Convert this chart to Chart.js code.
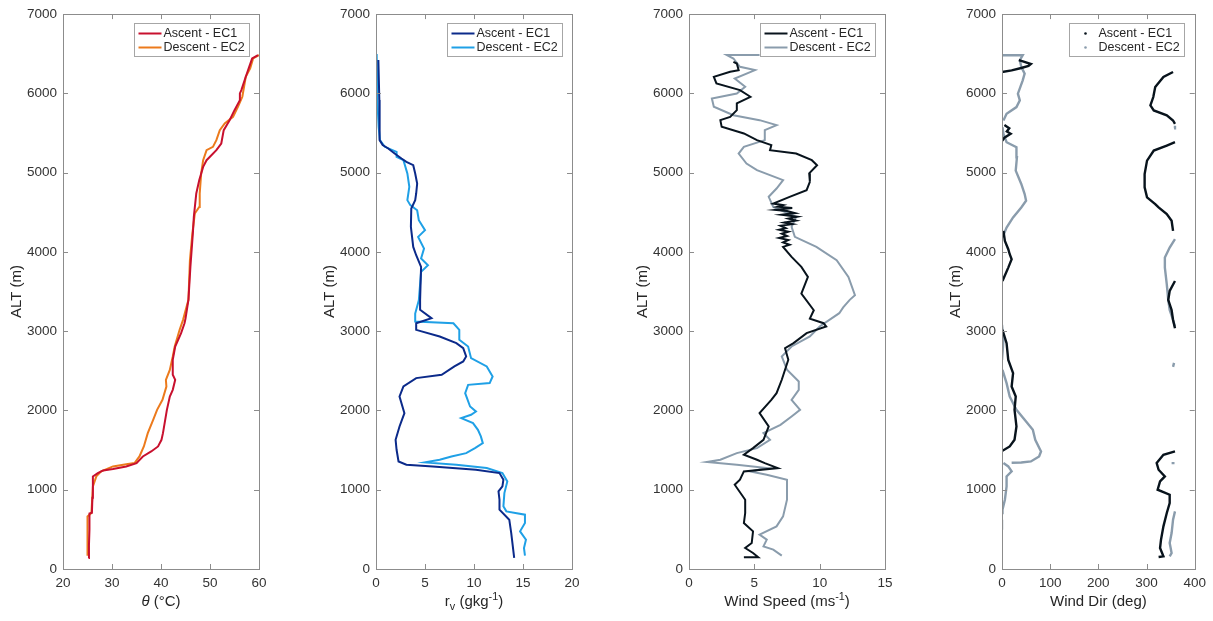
<!DOCTYPE html>
<html>
<head>
<meta charset="utf-8">
<script src="https://cdn.jsdelivr.net/npm/chart.js@4.4.1/dist/chart.umd.min.js"></script>
<style>
  html, body { margin: 0; padding: 0; background: #fff; overflow: hidden; }
  #wrap { position: relative; width: 1213px; height: 621px; }
  canvas { position: absolute; top: 0; }
</style>
</head>
<body>
<div id="wrap">
  <canvas id="c0" width="273" height="621" style="left:0px"></canvas>
  <canvas id="c1" width="273" height="621" style="left:313px"></canvas>
  <canvas id="c2" width="273" height="621" style="left:626px"></canvas>
  <canvas id="c3" width="273" height="621" style="left:939px"></canvas>
</div>
<script>
const FONT = '"Liberation Sans", Arial, Helvetica, sans-serif';
const AXIS = '#8c8c8c';
const INK = '#333333';

const altTicks = [0, 1000, 2000, 3000, 4000, 5000, 6000, 7000];
const thetaTicks = [20, 30, 40, 50, 60];
const rvTicks = [0, 5, 10, 15, 20];
const wsTicks = [0, 5, 10, 15];
const wdTicks = [0, 100, 200, 300, 400];
const seriesNames = ['Ascent - EC1', 'Descent - EC2'];

// [value, altitude m]
const thetaAscent = [[25.2,139],[25.3,300],[25.4,500],[25.4,700],[25.9,710],[26.0,900],[26.1,1168],[27.1,1210],[28.2,1244],[30.2,1262],[32.9,1294],[35.0,1336],[36.3,1420],[38.0,1483],[39.4,1546],[40.1,1630],[40.4,1714],[41.2,2008],[41.8,2176],[42.4,2260],[42.9,2386],[42.4,2450],[42.4,2639],[42.9,2807],[44.1,2975],[44.8,3100],[45.0,3160],[45.6,3395],[46.0,3811],[46.5,4232],[46.7,4442],[47.2,4737],[47.8,4905],[48.6,5073],[49.3,5157],[51.3,5283],[52.3,5368],[52.8,5536],[54.0,5662],[55.0,5788],[56.1,5915],[56.1,6000],[56.4,6041],[57.3,6209],[58.0,6335],[58.6,6440],[59.8,6483]];
const thetaDescent = [[25.1,181],[25.0,400],[25.0,664],[25.8,706],[26.1,1042],[26.8,1168],[27.8,1231],[30.2,1294],[32.9,1320],[34.6,1336],[35.6,1420],[36.5,1546],[37.3,1714],[38.4,1882],[39.2,2008],[40.3,2134],[41.1,2302],[41.0,2386],[41.8,2512],[42.4,2681],[42.8,2807],[43.8,3017],[44.5,3143],[45.6,3395],[45.9,3895],[46.4,4232],[46.9,4484],[47.8,4568],[47.9,4737],[48.2,4990],[48.6,5157],[49.3,5283],[50.6,5325],[51.3,5410],[52.0,5536],[53.0,5620],[54.7,5704],[55.7,5830],[56.6,5957],[57.3,6209],[58.2,6314],[58.8,6440],[60.0,6483]];

const rvAscent = [[0.24,6420],[0.34,5915],[0.34,5578],[0.4,5410],[0.68,5347],[1.25,5305],[1.9,5241],[2.6,5178],[3.1,5136],[3.8,5094],[4.0,4990],[4.2,4863],[4.1,4737],[4.0,4653],[3.6,4547],[3.56,4316],[3.8,4063],[4.1,3958],[4.6,3811],[4.5,3390],[4.5,3269],[5.66,3164],[4.1,3101],[4.1,3017],[6.5,2933],[8.2,2849],[8.9,2786],[9.2,2681],[8.9,2618],[8.0,2555],[6.7,2450],[4.1,2408],[2.8,2303],[2.4,2176],[2.9,1966],[2.4,1798],[2.0,1630],[2.1,1504],[2.3,1357],[3.1,1315],[5.8,1294],[10.2,1252],[12.6,1210],[13.0,1126],[12.9,1042],[12.5,979],[12.6,874],[12.6,748],[13.6,622],[13.8,454],[14.1,139]];
const rvDescent = [[0.07,6496],[0.14,5915],[0.27,5578],[0.4,5410],[0.9,5326],[2.1,5263],[2.1,5200],[2.8,5157],[3.2,4990],[3.4,4821],[3.2,4653],[3.5,4590],[4.2,4526],[4.37,4400],[5.0,4274],[4.3,4190],[4.9,4042],[4.6,3916],[5.3,3832],[4.6,3748],[4.37,3390],[4.0,3222],[4.0,3122],[7.9,3100],[8.5,3017],[8.5,2891],[9.4,2807],[9.7,2660],[11.3,2555],[11.9,2429],[11.6,2345],[9.4,2323],[9.1,2218],[9.6,2050],[10.2,1987],[9.7,1945],[8.7,1903],[9.9,1840],[10.4,1756],[10.7,1672],[10.9,1588],[10.1,1525],[9.2,1462],[7.7,1420],[6.5,1378],[5.0,1345],[8.2,1315],[11.3,1273],[12.9,1210],[13.4,1105],[13.1,958],[13.0,790],[13.3,727],[15.2,685],[15.2,580],[14.7,475],[15.3,370],[15.1,265],[15.2,168]];

const wsAscent = [[3.4,6398],[3.66,6377],[3.8,6293],[3.15,6272],[1.9,6209],[2.1,6125],[3.9,6041],[4.7,5957],[3.66,5873],[3.66,5788],[3.15,5704],[2.4,5662],[2.5,5578],[4.2,5494],[5.2,5410],[6.3,5347],[6.2,5283],[8.2,5241],[9.4,5157],[9.8,5094],[9.2,4990],[9.25,4884],[9.0,4779],[7.7,4695],[6.45,4610],[7.2,4590],[6.8,4570],[7.9,4555],[6.6,4530],[7.5,4515],[8.1,4490],[7.1,4470],[8.3,4445],[7.6,4420],[8.2,4395],[7.3,4370],[7.9,4350],[7.0,4330],[7.4,4300],[6.9,4280],[7.6,4255],[7.1,4230],[7.5,4200],[6.9,4175],[7.6,4150],[7.2,4120],[7.7,4090],[7.2,4063],[7.85,3937],[8.6,3811],[9.1,3685],[8.6,3475],[9.55,3264],[9.25,3159],[10.3,3101],[10.5,3059],[9.0,2975],[8.0,2849],[7.35,2786],[7.6,2639],[7.1,2387],[6.7,2218],[6.3,2134],[5.4,1966],[6.1,1798],[5.7,1630],[4.9,1525],[4.2,1441],[5.2,1378],[5.8,1336],[6.8,1273],[4.2,1231],[3.9,1126],[3.5,1063],[4.3,874],[4.3,706],[4.2,580],[4.9,475],[4.8,328],[4.3,265],[4.9,202],[5.3,147],[4.2,147]];
const wsDescent = [[5.4,6483],[2.9,6483],[3.4,6440],[3.9,6335],[5.05,6293],[3.5,6188],[4.3,6083],[3.66,5999],[1.75,5936],[1.9,5831],[3.4,5725],[5.4,5662],[6.7,5599],[5.8,5536],[5.8,5410],[4.2,5326],[3.8,5241],[4.4,5115],[5.2,5031],[7.2,4905],[6.7,4800],[6.1,4695],[6.45,4568],[8.2,4442],[7.85,4316],[8.1,4190],[9.75,4063],[11.3,3895],[12.2,3685],[12.7,3453],[12.3,3395],[11.8,3300],[11.5,3227],[10.0,3059],[9.25,2933],[7.85,2807],[7.1,2681],[7.5,2513],[8.4,2366],[8.4,2260],[7.85,2134],[8.5,2008],[7.85,1924],[7.0,1819],[5.7,1714],[6.2,1630],[5.2,1525],[3.66,1462],[2.4,1378],[1.37,1349],[3.66,1315],[5.95,1273],[4.7,1231],[5.95,1189],[7.5,1126],[7.5,874],[7.2,664],[6.7,538],[5.4,433],[5.95,370],[5.7,286],[6.45,244],[7.1,168]];

// wind direction: pieces split where it wraps past 360
const wdAscent = [
  [[325,151],[335,160],[328,265],[330,370],[335,538],[342,706],[348,832],[348,937],[323,1000],[328,1105],[338,1168],[325,1252],[321,1336],[335,1441],[359,1483]],
  [[1,1491],[16,1546],[26,1630],[30,1798],[26,2008],[28.5,2176],[20,2302],[23,2470],[13,2638],[9.5,2848],[1,3016]],
  [[359,3037],[355,3142],[352,3268],[345,3394],[348,3507],[359,3633]],
  [[1,3633],[13,3802],[20,3907],[16,3971],[13,4034],[6,4139],[3,4266]],
  [[355,4266],[352,4393],[342,4477],[325,4561],[318,4604],[301,4688],[296,4815],[296,4983],[301,5152],[315,5279],[342,5342],[359,5384]],
  [[0,5400],[5,5440],[18,5490],[10,5520],[15,5560],[5,5600]],
  [[359,5616],[355,5658],[342,5722],[315,5785],[308,5848],[314,5954],[318,6080],[335,6207],[355,6270]],
  [[0,6270],[20,6290],[40,6320],[55,6345],[60,6370],[45,6400],[35,6420]],
];
const wdDescent = [
  [[348,160],[352,202],[348,328],[352,454],[355,622],[359,727]],
  [[1,496],[0,560],[0,622]],
  [[0,706],[1,748],[6,874],[9.5,1042],[9.5,1168],[20,1231],[13,1294],[3,1336]],
  [[352,1336],[358,1336]],
  [[20,1340],[40,1344],[60,1357],[77,1420],[81,1483],[69,1630],[64,1756],[47,1882],[30,2008],[16,2176],[9.5,2344],[1,2512]],
  [[355,2550],[357,2600]],
  [[0,2638],[3,2890],[0,3079]],
  [[359,3058],[355,3142],[348,3268],[345,3394],[342,3591],[338,3802],[338,3929],[348,4055],[359,4161]],
  [[1,4182],[9.5,4308],[23,4435],[40,4561],[50,4646],[47,4730],[40,4857],[28.5,5025],[31,5194],[30,5321],[9.5,5384],[3,5490],[1,5574]],
  [[357,5560],[359,5590]],
  [[3,5658],[9.5,5743],[30,5827],[37,5912],[33,5996],[43,6165],[47,6249],[40,6334],[37,6418],[43,6481],[0,6481]],
];

function toPoints(pairs) {
  return pairs.map(([v, a]) => ({ x: v, y: a }));
}

function piecesToPoints(pieces) {
  const out = [];
  pieces.forEach((p, i) => {
    if (i > 0) out.push({ x: null, y: null });
    out.push(...toPoints(p));
  });
  return out;
}

function drawRuns(ctx, runs, cx, cy, size) {
  const parts = runs.map((r) => {
    const s = (r.sub || r.sup) ? size * 0.72 : size;
    const font = `${r.italic ? 'italic ' : ''}${s}px ${FONT}`;
    ctx.font = font;
    return { ...r, font, w: ctx.measureText(r.t).width };
  });
  const total = parts.reduce((a, p) => a + p.w, 0);
  let x = cx - total / 2;
  ctx.textAlign = 'left';
  ctx.textBaseline = 'middle';
  parts.forEach((p) => {
    ctx.font = p.font;
    const dy = p.sub ? size * 0.32 : p.sup ? -size * 0.36 : 0;
    ctx.fillText(p.t, x, cy + dy);
    x += p.w;
  });
}

const frame = {
  id: 'frame',
  afterDraw(chart, args, opts) {
    const { ctx, chartArea: a, scales: { x, y } } = chart;
    ctx.save();
    ctx.strokeStyle = AXIS;
    ctx.lineWidth = 1;
    ctx.beginPath();
    x.ticks.forEach((t) => {
      const px = Math.round(x.getPixelForValue(t.value)) + 0.5;
      ctx.moveTo(px, a.bottom); ctx.lineTo(px, a.bottom - 5);
      ctx.moveTo(px, a.top); ctx.lineTo(px, a.top + 5);
    });
    y.ticks.forEach((t) => {
      const py = Math.round(y.getPixelForValue(t.value)) + 0.5;
      ctx.moveTo(a.left, py); ctx.lineTo(a.left + 5, py);
      ctx.moveTo(a.right, py); ctx.lineTo(a.right - 5, py);
    });
    ctx.stroke();
    ctx.strokeRect(Math.round(a.left) + 0.5, Math.round(a.top) + 0.5,
      Math.round(a.right - a.left), Math.round(a.bottom - a.top));

    // x axis title with sub/superscripts
    ctx.fillStyle = '#262626';
    drawRuns(ctx, opts.title, (a.left + a.right) / 2, 602, 15);

    // legend box
    const bw = 115, bh = 33;
    const bx = Math.round(a.right - 10.5 - bw) + 0.5;
    const by = Math.round(a.top + 9) + 0.5;
    ctx.fillStyle = '#fff';
    ctx.fillRect(bx, by, bw, bh);
    ctx.strokeStyle = '#a6a6a6';
    ctx.strokeRect(bx, by, bw, bh);
    chart.data.datasets.forEach((ds, i) => {
      const ry = by + 10 + i * 14;
      if (opts.dots) {
        ctx.fillStyle = ds.borderColor;
        ctx.beginPath();
        ctx.arc(bx + 16, ry, 1.3, 0, Math.PI * 2);
        ctx.fill();
      } else {
        ctx.strokeStyle = ds.borderColor;
        ctx.lineWidth = 2;
        ctx.beginPath();
        ctx.moveTo(bx + 4, ry); ctx.lineTo(bx + 27, ry);
        ctx.stroke();
      }
      ctx.fillStyle = '#262626';
      ctx.font = `12.5px ${FONT}`;
      ctx.textAlign = 'left';
      ctx.textBaseline = 'middle';
      ctx.fillText(ds.label, bx + 29, ry + 0.5);
    });
    ctx.restore();
  },
};

function makePanel(id, xTicks, title, series, colors, opts = {}) {
  const datasets = series.map((pts, i) => ({
    label: seriesNames[i],
    data: pts,
    showLine: true,
    borderColor: colors[i],
    backgroundColor: colors[i],
    borderWidth: opts.width || 2,
    pointRadius: 0,
    pointHoverRadius: 0,
    spanGaps: false,
    tension: 0,
  }));
  return new Chart(document.getElementById(id), {
    type: 'scatter',
    data: { datasets },
    plugins: [frame],
    options: {
      responsive: false,
      animation: false,
      events: [],
      layout: { padding: { top: 14, right: 14, left: 0, bottom: 0 } },
      plugins: {
        legend: { display: false },
        tooltip: { enabled: false },
        frame: { title, dots: !!opts.dots },
      },
      scales: {
        x: {
          type: 'linear',
          min: xTicks[0],
          max: xTicks[xTicks.length - 1],
          afterBuildTicks: (s) => { s.ticks = xTicks.map((v) => ({ value: v })); },
          afterFit: (s) => { s.height = 52; },
          grid: { display: false, drawTicks: false },
          border: { display: false },
          ticks: { color: INK, padding: 6, maxRotation: 0, autoSkip: false, font: { size: 13.5, family: FONT }, callback: (v) => String(v) },
        },
        y: {
          type: 'linear',
          min: altTicks[0],
          max: altTicks[altTicks.length - 1],
          afterBuildTicks: (s) => { s.ticks = altTicks.map((v) => ({ value: v })); },
          afterFit: (s) => { s.width = 63; },
          grid: { display: false, drawTicks: false },
          border: { display: false },
          ticks: { color: INK, padding: 6, autoSkip: false, font: { size: 13.5, family: FONT }, callback: (v) => String(v) },
          title: { display: true, text: 'ALT (m)', color: '#262626', font: { size: 15, family: FONT }, padding: { top: 8, bottom: 0 } },
        },
      },
    },
  });
}

makePanel('c0', thetaTicks, [{ t: 'θ', italic: true }, { t: ' (°C)' }],
  [toPoints(thetaAscent), toPoints(thetaDescent)], ['#c8102e', '#ec7a1c']);
makePanel('c1', rvTicks, [{ t: 'r' }, { t: 'v', sub: true }, { t: ' (gkg' }, { t: '-1', sup: true }, { t: ')' }],
  [toPoints(rvAscent), toPoints(rvDescent)], ['#0b2a8a', '#1fa0e6']);
makePanel('c2', wsTicks, [{ t: 'Wind Speed (ms' }, { t: '-1', sup: true }, { t: ')' }],
  [toPoints(wsAscent), toPoints(wsDescent)], ['#08131c', '#8a9cac']);
makePanel('c3', wdTicks, [{ t: 'Wind Dir (deg)' }],
  [piecesToPoints(wdAscent), piecesToPoints(wdDescent)], ['#08131c', '#8a9cac'], { width: 2.4, dots: true });
</script>
</body>
</html>
